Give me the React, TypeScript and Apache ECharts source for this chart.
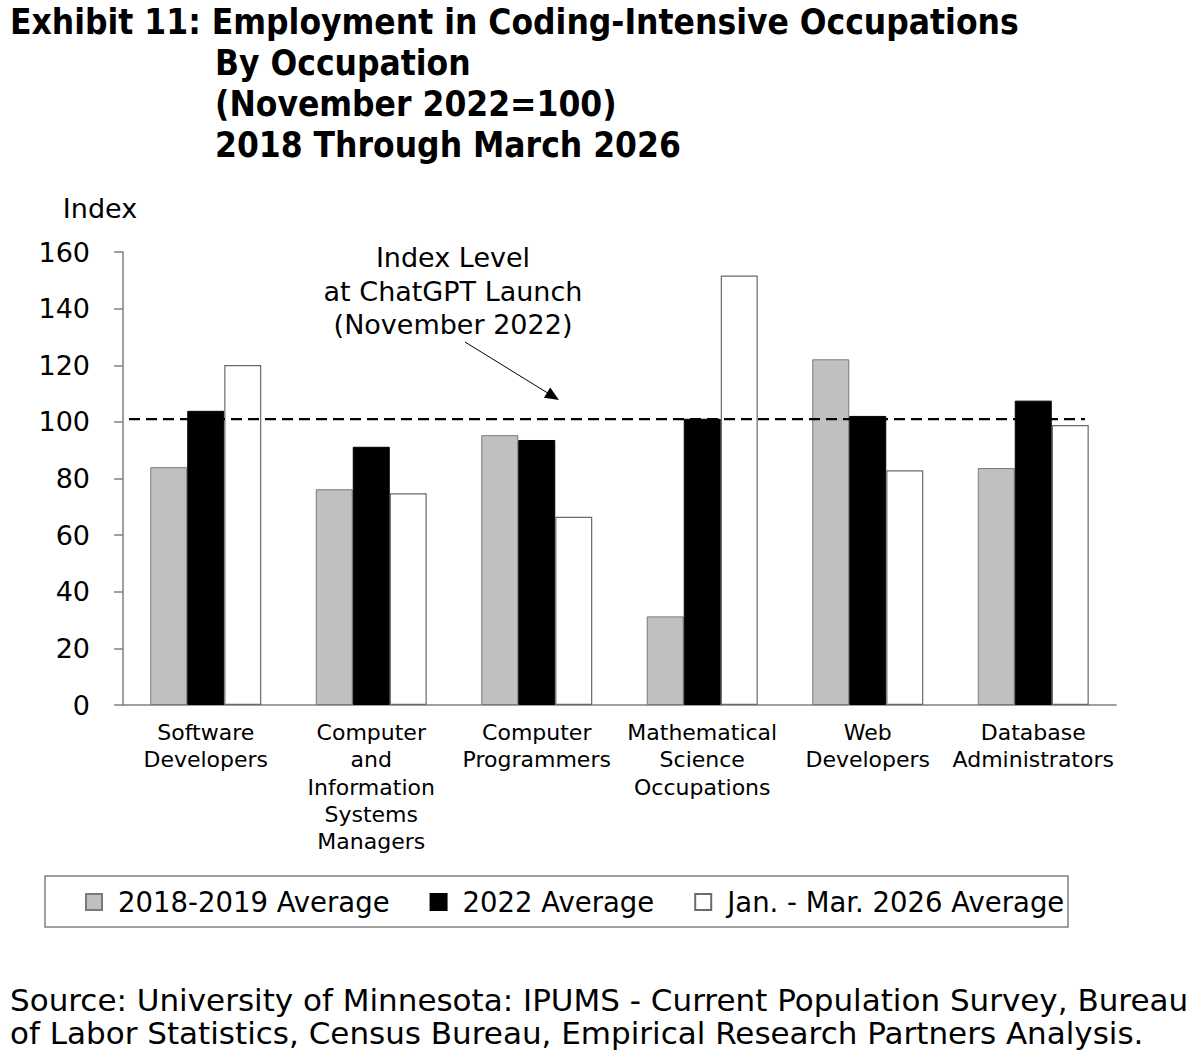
import { useEffect, useRef } from "react";
import * as echarts from "echarts";

const categories = [
  "Software\nDevelopers",
  "Computer\nand\nInformation\nSystems\nManagers",
  "Computer\nProgrammers",
  "Mathematical\nScience\nOccupations",
  "Web\nDevelopers",
  "Database\nAdministrators",
];
const seriesNames = ["2018-2019 Average", "2022 Average", "Jan. - Mar. 2026 Average"];
const avg2018to2019 = [84.0, 76.2, 95.3, 31.3, 122.1, 83.7];
const avg2022 = [103.9, 91.2, 93.6, 101.1, 102.1, 107.5];
const avgJanMar2026 = [120.1, 74.8, 66.5, 151.7, 82.9, 98.9];
const yMin = 0;
const yMax = 160;
const yStep = 20;
const launchLevel = 101;

const FONT = "'DejaVu Sans', sans-serif";
const TITLE_FONT = "'DejaVu Sans Condensed', 'DejaVu Sans', sans-serif";
const AXIS_GRAY = "#808080";

export default function App() {
  const ref = useRef<HTMLDivElement>(null);

  useEffect(() => {
    document.body.style.margin = "0";
    if (!ref.current) return;
    const chart = echarts.init(ref.current, undefined, { renderer: "svg" });

    const barStyle = [
      { color: "#c0c0c0", borderColor: "#7a7a7a", borderWidth: 1 },
      { color: "#000000", borderColor: "#000000", borderWidth: 1 },
      { color: "#ffffff", borderColor: "#6a6a6a", borderWidth: 1.2 },
    ];
    const values = [avg2018to2019, avg2022, avgJanMar2026];

    const titleStyle = {
      fontFamily: TITLE_FONT,
      fontWeight: "bold" as const,
      fontSize: 35,
      lineHeight: 41,
      color: "#000",
    };

    // arrow from annotation text down to the launch line
    const tail = [465, 342];
    const tip = [559, 400];
    const dx = tip[0] - tail[0];
    const dy = tip[1] - tail[1];
    const len = Math.hypot(dx, dy);
    const ux = dx / len;
    const uy = dy / len;
    const headLen = 14;
    const headHalf = 6;
    const bx = tip[0] - ux * headLen;
    const by = tip[1] - uy * headLen;

    const graphics: any[] = [
      {
        type: "rect",
        shape: { x: 45, y: 876, width: 1023, height: 51 },
        style: { fill: "none", stroke: AXIS_GRAY, lineWidth: 1.5 },
      },
      {
        type: "text",
        x: 100,
        y: 208,
        style: {
          text: "Index",
          fontFamily: FONT,
          fontSize: 27,
          fill: "#000",
          textAlign: "center",
          textVerticalAlign: "middle",
        },
      },
      {
        type: "text",
        x: 453,
        y: 241,
        style: {
          text: "Index Level\nat ChatGPT Launch\n(November 2022)",
          fontFamily: FONT,
          fontSize: 27,
          lineHeight: 33.5,
          fill: "#000",
          textAlign: "center",
          textVerticalAlign: "top",
        },
      },
      {
        type: "line",
        shape: { x1: tail[0], y1: tail[1], x2: bx, y2: by },
        style: { stroke: "#000", lineWidth: 1 },
      },
      {
        type: "polygon",
        shape: {
          points: [
            [tip[0], tip[1]],
            [bx - uy * headHalf, by + ux * headHalf],
            [bx + uy * headHalf, by - ux * headHalf],
          ],
        },
        style: { fill: "#000" },
      },
      {
        type: "text",
        x: 10,
        y: 983,
        style: {
          text:
            "Source: University of Minnesota: IPUMS - Current Population Survey, Bureau\nof Labor Statistics, Census Bureau, Empirical Research Partners Analysis.",
          fontFamily: FONT,
          fontSize: 31,
          lineHeight: 33,
          fill: "#000",
          textAlign: "left",
          textVerticalAlign: "top",
        },
      },
    ];

    chart.setOption({
      animation: false,
      backgroundColor: "#ffffff",
      title: [
        {
          text: "Exhibit 11: Employment in Coding-Intensive Occupations",
          left: 10,
          top: 1,
          padding: 0,
          textStyle: titleStyle,
        },
        {
          text: "By Occupation\n(November 2022=100)\n2018 Through March 2026",
          left: 215,
          top: 42,
          padding: 0,
          textStyle: titleStyle,
        },
      ],
      grid: { left: 123, right: 84, top: 252, bottom: 346 },
      legend: {
        left: 85,
        top: 888,
        padding: 0,
        itemGap: 40,
        itemWidth: 16,
        itemHeight: 16,
        icon: "rect",
        data: seriesNames,
        textStyle: {
          fontFamily: FONT,
          fontSize: 27.5,
          color: "#000",
          padding: [0, 0, 0, 11],
        },
      },
      xAxis: {
        type: "category",
        data: categories,
        axisLine: { lineStyle: { color: AXIS_GRAY, width: 1.5 } },
        axisTick: { show: false },
        axisLabel: {
          interval: 0,
          margin: 14,
          fontFamily: FONT,
          fontSize: 22,
          lineHeight: 27.3,
          color: "#000",
        },
      },
      yAxis: {
        type: "value",
        min: yMin,
        max: yMax,
        interval: yStep,
        axisLine: { show: true, lineStyle: { color: AXIS_GRAY, width: 1.5 } },
        axisTick: { show: true, length: 9, lineStyle: { color: AXIS_GRAY, width: 1.5 } },
        splitLine: { show: false },
        axisLabel: {
          margin: 33,
          fontFamily: FONT,
          fontSize: 27,
          color: "#000",
        },
      },
      series: seriesNames.map((name, i) => ({
        name,
        type: "bar",
        barWidth: 37,
        barGap: "0%",
        data: values[i],
        itemStyle: barStyle[i],
      })),
      graphic: graphics,
    });

    // dashed launch-level line, placed with the y scale
    const yPx = chart.convertToPixel({ yAxisIndex: 0 }, launchLevel) as number;
    chart.setOption({
      graphic: [
        ...graphics,
        {
          type: "line",
          shape: { x1: 129, y1: yPx, x2: 1085, y2: yPx },
          style: { stroke: "#000", lineWidth: 2.2, lineDash: [11, 6] },
          z: 10,
        },
      ],
    });

    return () => chart.dispose();
  }, []);

  return <div ref={ref} style={{ width: 1200, height: 1051 }} />;
}
